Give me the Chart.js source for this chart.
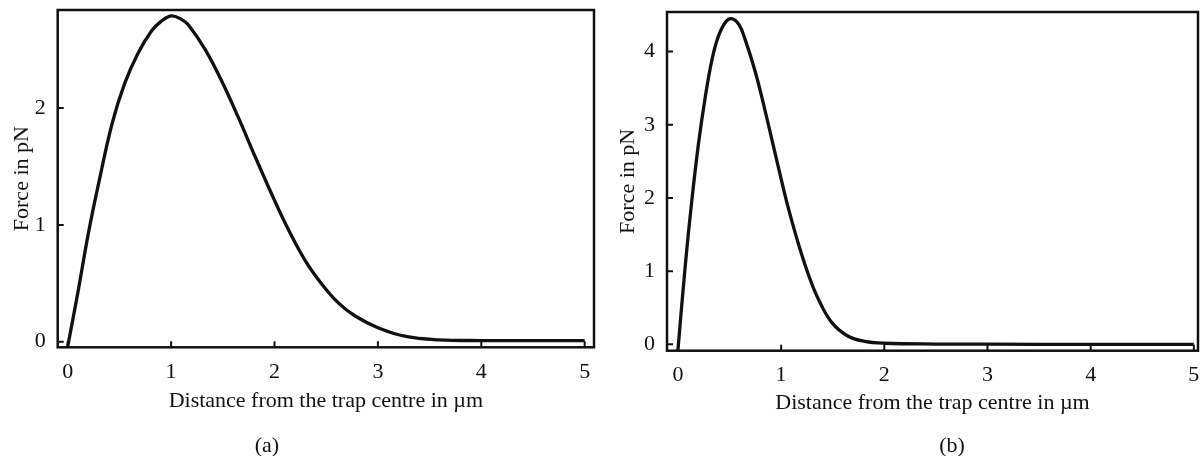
<!DOCTYPE html>
<html lang="en">

<head>
    <meta charset="UTF-8" />
    <title>Trap force vs distance</title>
    <script src="https://cdn.jsdelivr.net/npm/chart.js"></script>
    <style>
        body {
            margin: 0;
            background: #fff;
            width: 1204px;
            height: 456px;
            position: relative;
            overflow: hidden;
            font-family: 'Liberation Serif', 'Times New Roman', serif;
        }

        canvas {
            position: absolute;
            top: 0;
        }

        #chartA { left: 0; }
        #chartB { left: 600px; }

        .caption {
            position: absolute;
            top: 434px;
            width: 60px;
            margin-left: -30px;
            text-align: center;
            font-size: 22px;
            line-height: 22px;
            color: #111;
        }
    </style>
</head>

<body>
    <canvas id="chartA" width="600" height="456"></canvas>
    <canvas id="chartB" width="604" height="456"></canvas>
    <div class="caption" style="left:267px">(a)</div>
    <div class="caption" style="left:952px">(b)</div>

    <script>
        // panel (a)
        const distA = [0, 0.1, 0.2, 0.3, 0.43, 0.55, 0.68, 0.81, 0.9, 1.0, 1.1, 1.17, 1.33, 1.49, 1.65, 1.81, 2.0, 2.14, 2.3, 2.46, 2.62, 2.78, 3.0, 3.27, 3.59, 4.0, 4.5, 5.0];
        const forceA = [-0.04, 0.43, 0.93, 1.36, 1.87, 2.21, 2.47, 2.66, 2.74, 2.79, 2.76, 2.71, 2.50, 2.23, 1.92, 1.59, 1.21, 0.95, 0.69, 0.49, 0.33, 0.22, 0.12, 0.045, 0.016, 0.01, 0.01, 0.01];
        const yTicksA = [0, 1, 2];

        // panel (b)
        const distB = [0, 0.07, 0.135, 0.2, 0.265, 0.33, 0.39, 0.46, 0.52, 0.59, 0.65, 0.75, 0.85, 0.94, 1.0, 1.07, 1.17, 1.27, 1.36, 1.49, 1.65, 1.81, 2.0, 2.5, 3, 4, 5];
        const forceB = [-0.08, 1.06, 1.97, 2.75, 3.38, 3.89, 4.20, 4.40, 4.45, 4.37, 4.17, 3.72, 3.16, 2.62, 2.26, 1.86, 1.36, 0.93, 0.62, 0.30, 0.11, 0.04, 0.015, 0.004, 0.002, 0, 0];
        const yTicksB = [0, 1, 2, 3, 4];

        const xTicks = [0, 1, 2, 3, 4, 5];
        const xTitle = "Distance from the trap centre in \u00b5m";
        const yTitle = "Force in pN";

        const ink = "#111";
        const font = { family: "'Liberation Serif', 'Times New Roman', serif", size: 22, lineHeight: 1 };

        // box around the plot area plus short inward tick marks
        const frame = {
            id: "frame",
            afterDatasetsDraw(chart) {
                const { ctx, chartArea: a, scales: { x, y } } = chart;
                ctx.save();
                ctx.strokeStyle = ink;
                ctx.lineWidth = 2.5;
                ctx.strokeRect(a.left, a.top, a.right - a.left, a.bottom - a.top);
                ctx.lineWidth = 2;
                ctx.beginPath();
                x.ticks.forEach(t => {
                    const p = x.getPixelForValue(t.value);
                    ctx.moveTo(p, a.bottom);
                    ctx.lineTo(p, a.bottom - 6);
                });
                y.ticks.forEach(t => {
                    const p = y.getPixelForValue(t.value);
                    ctx.moveTo(a.left, p);
                    ctx.lineTo(a.left + 6, p);
                });
                ctx.stroke();
                ctx.restore();
            }
        };

        function makeChart(id, xs, ys, yTicks, g) {
            return new Chart(document.getElementById(id), {
                type: "line",
                data: {
                    datasets: [{
                        data: xs.map((v, i) => ({ x: v, y: ys[i] })),
                        borderColor: ink,
                        borderWidth: 3.3,
                        pointRadius: 0,
                        fill: false,
                        tension: 0.4
                    }]
                },
                options: {
                    responsive: false,
                    animation: false,
                    events: [],
                    layout: { padding: g.padding },
                    plugins: { legend: { display: false }, tooltip: { enabled: false } },
                    scales: {
                        x: {
                            type: "linear",
                            min: g.xMin,
                            max: g.xMax,
                            grid: { display: false },
                            border: { display: false },
                            afterBuildTicks: s => { s.ticks = xTicks.map(v => ({ value: v })); },
                            afterFit: s => { s.height = g.xHeight; s.paddingLeft = 0; s.paddingRight = 0; },
                            ticks: { color: ink, font: font, padding: 6, maxRotation: 0 },
                            title: { display: true, text: xTitle, color: ink, font: font, padding: 0 }
                        },
                        y: {
                            min: g.yMin,
                            max: g.yMax,
                            grid: { display: false },
                            border: { display: false },
                            afterBuildTicks: s => { s.ticks = yTicks.map(v => ({ value: v })); },
                            afterFit: s => { s.width = g.yWidth; s.paddingTop = 0; s.paddingBottom = 0; },
                            ticks: { color: ink, font: font, padding: 4 },
                            title: { display: true, text: yTitle, color: ink, font: font, padding: { top: g.yTitlePad, bottom: 0 } }
                        }
                    }
                },
                plugins: [frame]
            });
        }

        makeChart("chartA", distA, forceA, yTicksA, {
            padding: { top: 10, right: 6, bottom: 44, left: 0 },
            xMin: -0.097, xMax: 5.09, yMin: -0.048, yMax: 2.84,
            xHeight: 64.7, yWidth: 57.7, yTitlePad: 11.5
        });

        makeChart("chartB", distB, forceB, yTicksB, {
            padding: { top: 12, right: 6, bottom: 42, left: 0 },
            xMin: -0.106, xMax: 5.04, yMin: -0.087, yMax: 4.54,
            xHeight: 63.3, yWidth: 67, yTitlePad: 17
        });
    </script>
</body>

</html>
